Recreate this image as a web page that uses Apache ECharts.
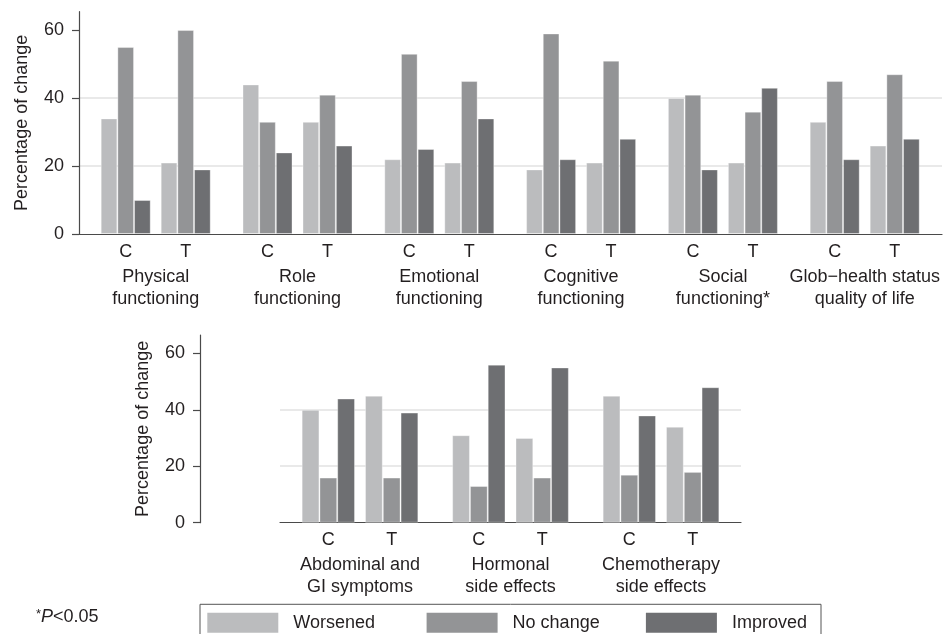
<!DOCTYPE html>
<html><head><meta charset="utf-8">
<script src="https://cdn.jsdelivr.net/npm/echarts@6/dist/echarts.min.js"></script>
<style>html,body{margin:0;padding:0;background:#fff}#c{width:944px;height:634px}</style>
</head><body><div id="c"></div>
<script>
// ---------------- data ----------------
const statuses = ['Worsened', 'No change', 'Improved'];
const arms = ['C', 'T'];
const topCategories = ['Physical\nfunctioning', 'Role\nfunctioning', 'Emotional\nfunctioning',
  'Cognitive\nfunctioning', 'Social\nfunctioning*', 'Glob\u2212health status\nquality of life'];
// each entry: [C, T]
const topWorsened = [[34, 21], [44, 33], [22, 21], [19, 21], [40, 21], [33, 26]];
const topNoChange = [[55, 60], [33, 41], [53, 45], [59, 51], [41, 36], [45, 47]];
const topImproved = [[10, 19], [24, 26], [25, 34], [22, 28], [19, 43], [22, 28]];
const bottomCategories = ['Abdominal and\nGI symptoms', 'Hormonal\nside effects', 'Chemotherapy\nside effects'];
const bottomWorsened = [[40, 45], [31, 30], [45, 34]];
const bottomNoChange = [[16, 16], [13, 16], [17, 18]];
const bottomImproved = [[44, 39], [56, 55], [38, 48]];
const yTicks = [0, 20, 40, 60];
const yAxisTitle = 'Percentage of change';

// ---------------- style / layout ----------------
const colors = ['#bbbcbe', '#939496', '#6e6f72'];
const textColor = '#231f20';
const axisColor = '#4a4a4a';
const gridColor = '#e2e2e2';
const FS = 18;

const panels = [
  { cats: topCategories, vals: [topWorsened, topNoChange, topImproved],
    axisX: 79, left: 79, right: 942, top: 11.7, bottom: 234, yMax: 65.4,
    firstCenter: 155.7, pitch: 141.8, groupW: 120, barW: 16.67, labelMargin: 9.5, nameGap: 32.5 },
  { cats: bottomCategories, vals: [bottomWorsened, bottomNoChange, bottomImproved],
    axisX: 200, left: 280, right: 741, top: 335, bottom: 522.7, yMax: 66.5,
    firstCenter: 360, pitch: 150.5, groupW: 126.7, barW: 17.78, labelMargin: 8, nameGap: 31 }
];

const grid = [], xAxis = [], yAxis = [], series = [];
panels.forEach(p => {
  // background grid: y axis, grid lines, baseline
  const g0 = grid.length;
  grid.push({ left: p.left, top: p.top, width: p.right - p.left, height: p.bottom - p.top });
  xAxis.push({ gridIndex: g0, type: 'value', min: 0, max: 1,
    axisLine: { show: true, onZero: false, lineStyle: { color: axisColor, width: 1.2 } },
    axisTick: { show: false }, axisLabel: { show: false }, splitLine: { show: false } });
  yAxis.push({ gridIndex: g0, type: 'value', min: 0, max: p.yMax, interval: 20,
    offset: p.left - p.axisX,
    axisLine: { show: true, onZero: false, lineStyle: { color: axisColor, width: 1.2 } },
    axisTick: { show: true, length: 7, customValues: yTicks, lineStyle: { color: axisColor, width: 1.2 } },
    axisLabel: { customValues: yTicks, fontSize: FS, color: textColor, margin: 15, fontFamily: 'Liberation Sans' },
    splitLine: { show: true, showMaxLine: false, showMinLine: false, lineStyle: { color: gridColor, width: 1.6 } },
    name: yAxisTitle, nameLocation: 'middle', nameGap: 48, nameRotate: 90,
    nameTextStyle: { fontSize: FS, color: textColor, fontFamily: 'Liberation Sans' } });
  // one small grid per category, C / T clusters
  p.cats.forEach((cat, k) => {
    const gi = grid.length;
    const center = p.firstCenter + k * p.pitch;
    grid.push({ left: center - p.groupW / 2, width: p.groupW, top: p.top, height: p.bottom - p.top });
    xAxis.push({ gridIndex: gi, type: 'category', data: arms,
      axisLine: { show: false }, axisTick: { show: false },
      axisLabel: { fontSize: FS, color: textColor, margin: p.labelMargin, fontFamily: 'Liberation Sans' },
      name: cat, nameLocation: 'middle', nameGap: p.nameGap,
      nameTextStyle: { fontSize: FS, lineHeight: 22, color: textColor, align: 'center', verticalAlign: 'top', fontFamily: 'Liberation Sans' } });
    yAxis.push({ gridIndex: gi, type: 'value', min: 0, max: p.yMax, show: false });
    statuses.forEach((s, si) => {
      series.push({ type: 'bar', name: s, xAxisIndex: gi, yAxisIndex: gi,
        data: p.vals[si][k], barWidth: p.barW, barGap: '0%',
        itemStyle: { color: colors[si], borderColor: 'rgba(255,255,255,0.35)', borderWidth: 1 } });
    });
  });
});

const legendLeft = 207.3, legendPitch = 219.3;
const legend = statuses.map((s, i) => ({
  data: [s], left: legendLeft + i * legendPitch, top: 612.7, padding: 0,
  itemWidth: 71, itemHeight: 20, icon: 'rect', selectedMode: false,
  itemStyle: { borderWidth: 0 },
  textStyle: { fontSize: FS, color: textColor, padding: [0, 0, 0, 10], fontFamily: 'Liberation Sans' }
}));

const chart = echarts.init(document.getElementById('c'), null, { renderer: 'canvas' });
chart.setOption({
  animation: false,
  backgroundColor: '#fff',
  textStyle: { fontFamily: 'Liberation Sans' },
  grid, xAxis, yAxis, series, legend,
  graphic: [
    { type: 'rect', shape: { x: 200, y: 604.3, width: 621, height: 60 },
      style: { fill: 'none', stroke: '#555', lineWidth: 1 }, silent: true },
    { type: 'text', left: 36, top: 608,
      style: { text: '{a|*}{p|P}{b|<0.05}', rich: {
        a: { fontSize: 13, fill: textColor, verticalAlign: 'top', fontFamily: 'Liberation Sans' },
        p: { fontSize: FS, fontStyle: 'italic', fill: textColor, fontFamily: 'Liberation Sans' },
        b: { fontSize: FS, fill: textColor, fontFamily: 'Liberation Sans' } } } }
  ]
});
</script></body></html>
